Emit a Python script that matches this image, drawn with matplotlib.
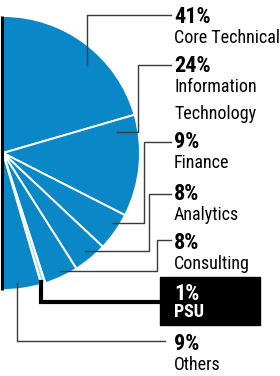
import matplotlib.pyplot as plt

# shares of placements by sector
pct = [41, 24, 9, 8, 8, 1, 9]
pct_labels = ['41%', '24%', '9%', '8%', '8%', '1%', '9%']
names = ['Core Technical', 'Information\nTechnology', 'Finance', 'Analytics',
         'Consulting', 'PSU', 'Others']

W, H = 280, 376
blue = '#0987c6'
light = '#a9d9f2'
colors = [blue, blue, blue, blue, blue, light, blue]

plt.rcParams['font.family'] = ['Roboto Condensed', 'Liberation Sans Narrow',
                               'Roboto', 'DejaVu Sans']

fig = plt.figure(figsize=(W / 100, H / 100), dpi=100)
ax = fig.add_axes([0, 0, 1, 1])


def py(y):
    # pixel row (from top) -> data y
    return H - y


cx, cy, r = 3, 153, 137
# half pie: pad with an invisible wedge the size of the whole
wedges, _ = ax.pie(pct + [sum(pct)], startangle=90, counterclock=False,
                   center=(cx, py(cy)), radius=r, colors=colors + ['none'],
                   wedgeprops=dict(edgecolor='white', linewidth=1.4))
wedges[-1].set_visible(False)

ax.plot([1.5, 1.5], [py(cy - r), py(cy + r)], color='black', lw=2.2,
        solid_capstyle='butt')

# leader lines (pixel rows)
leaders = [
    [(87, 65), (87, 15), (171, 15)],
    [(117, 132), (138, 132), (138, 65), (171, 65)],
    [(112, 223), (144, 223), (144, 142), (171, 142)],
    [(85, 251), (149, 251), (149, 194), (171, 194)],
    [(60, 271), (157, 271), (157, 240), (171, 240)],
    [(41, 282), (41, 302), (160, 302)],
    [(17, 283), (17, 341), (165, 341)],
]
for i, pts in enumerate(leaders):
    xs = [p[0] for p in pts]
    ys = [py(p[1]) for p in pts]
    if i == 5:
        ax.plot(xs, ys, color='black', lw=3, solid_joinstyle='miter')
    else:
        ax.plot(xs, ys, color='#3a3a3a', lw=1)

# PSU highlight box
ax.add_patch(plt.Rectangle((160, py(325)), 100, 48, color='black'))

# baselines of the bold percentages (pixel rows)
base = [23, 72, 148, 200, 249, 300, 350]
for i in range(len(pct)):
    c = 'white' if i == 5 else 'black'
    ax.text(174, py(base[i]), pct_labels[i], fontsize=16, fontweight='bold',
            color=c, va='baseline', ha='left')
    for j, line in enumerate(names[i].split('\n')):
        ax.text(174, py(base[i] + (17 if i == 5 else 20) + 27 * j), line,
                fontsize=13, color=c,
                fontweight='bold' if i == 5 else 'normal',
                va='baseline', ha='left')

ax.set_xlim(0, W)
ax.set_ylim(0, H)
ax.set_aspect('equal')
ax.axis('off')
fig.savefig('out.png', dpi=100)
